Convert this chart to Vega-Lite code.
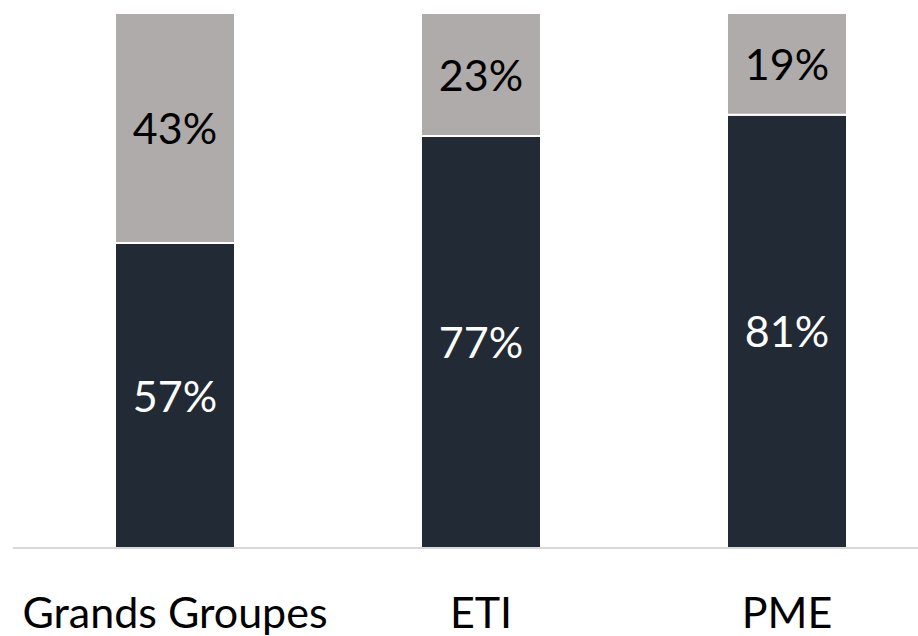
{
  "$schema": "https://vega.github.io/schema/vega-lite/v6.json",
  "width": 905,
  "height": 535,
  "autosize": {"type": "none"},
  "padding": {"left": 13, "top": 13, "right": 0, "bottom": 88},
  "background": "white",
  "config": {"view": {"stroke": null}},
  "data": {
    "values": [
      {"categorie": "Grands Groupes", "serie": "A", "valeur": 57, "ordre": 1},
      {"categorie": "Grands Groupes", "serie": "B", "valeur": 43, "ordre": 2},
      {"categorie": "ETI", "serie": "A", "valeur": 77, "ordre": 1},
      {"categorie": "ETI", "serie": "B", "valeur": 23, "ordre": 2},
      {"categorie": "PME", "serie": "A", "valeur": 81, "ordre": 1},
      {"categorie": "PME", "serie": "B", "valeur": 19, "ordre": 2}
    ]
  },
  "transform": [
    {"stack": "valeur", "groupby": ["categorie"], "sort": [{"field": "ordre"}], "as": ["y0", "y1"]},
    {"calculate": "(datum.y0 + datum.y1) / 2", "as": "ymid"},
    {"calculate": "datum.valeur + '%'", "as": "etiquette"}
  ],
  "encoding": {
    "x": {
      "field": "categorie",
      "type": "nominal",
      "sort": ["Grands Groupes", "ETI", "PME"],
      "scale": {"range": [9, 927], "paddingInner": 0.6078, "paddingOuter": 0.3039},
      "axis": {
        "title": null,
        "domain": false,
        "ticks": false,
        "tickSize": 0,
        "labelAngle": 0,
        "labelFont": "Lato",
        "labelFontSize": 43,
        "labelColor": "#000000",
        "labelBaseline": "alphabetic",
        "labelPadding": 79,
        "labelLimit": 0,
        "labelOverlap": false,
        "grid": false
      }
    }
  },
  "layer": [
    {
      "mark": {"type": "bar", "stroke": "white", "strokeWidth": 2},
      "encoding": {
        "y": {"field": "y0", "type": "quantitative", "scale": {"domain": [0, 100]}, "axis": null},
        "y2": {"field": "y1"},
        "color": {
          "field": "serie",
          "type": "nominal",
          "scale": {"domain": ["A", "B"], "range": ["#222A35", "#AFABAB"]},
          "legend": null
        }
      }
    },
    {
      "mark": {"type": "text", "font": "Lato", "fontSize": 43, "baseline": "middle", "dy": 3},
      "encoding": {
        "y": {"field": "ymid", "type": "quantitative", "scale": {"domain": [0, 100]}},
        "text": {"field": "etiquette"},
        "color": {
          "field": "serie",
          "type": "nominal",
          "scale": {"domain": ["A", "B"], "range": ["#FFFFFF", "#000000"]},
          "legend": null
        }
      }
    },
    {
      "data": {"values": [{"base": 0}]},
      "mark": {"type": "rule", "color": "#D9D9D9", "strokeWidth": 2},
      "encoding": {"y": {"field": "base", "type": "quantitative"}, "x": null}
    }
  ],
  "resolve": {"scale": {"color": "independent"}}
}
